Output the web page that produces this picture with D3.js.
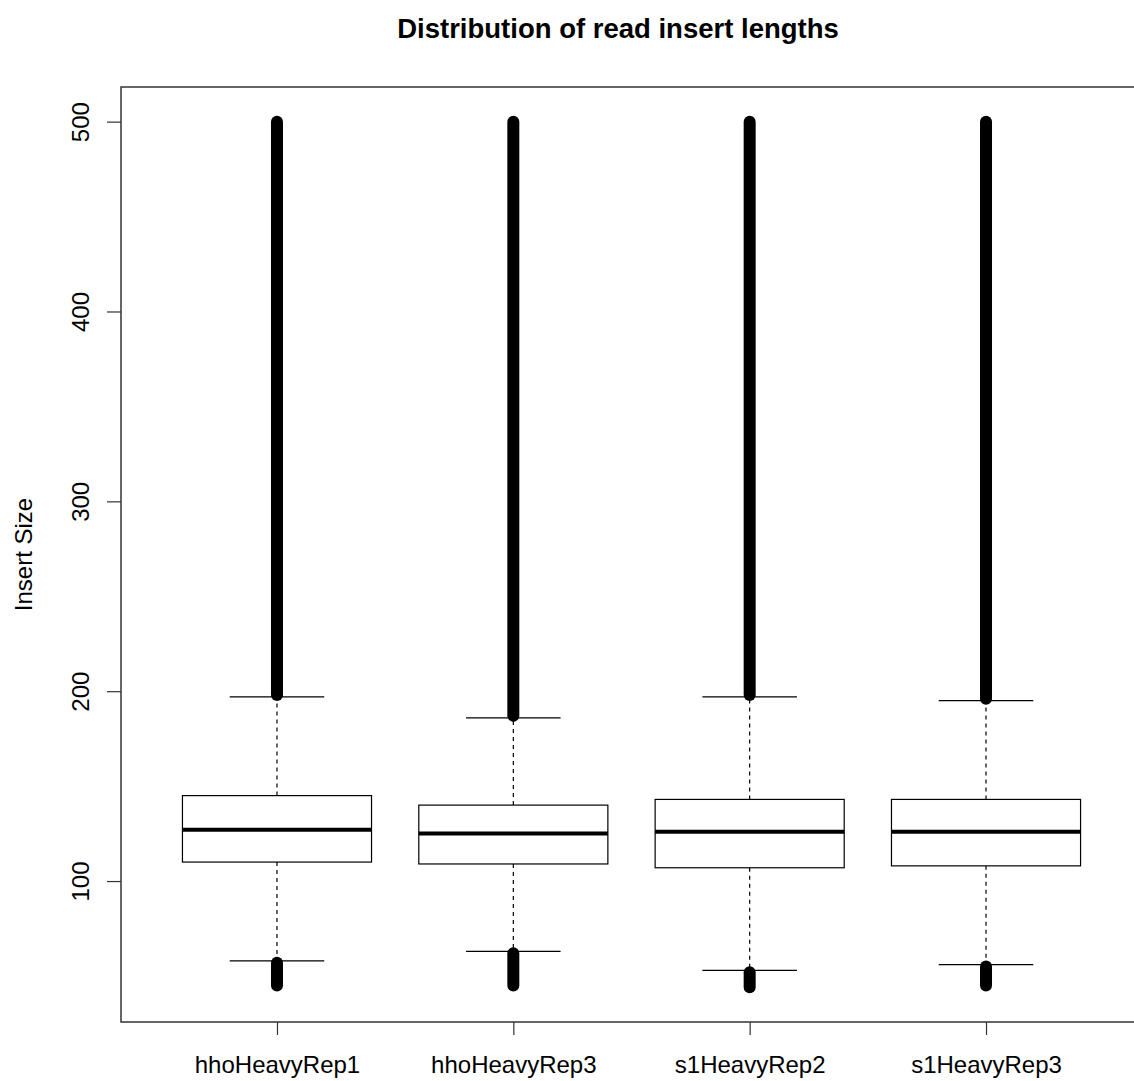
<!DOCTYPE html>
<html>
<head>
<meta charset="utf-8">
<script src="https://cdn.jsdelivr.net/npm/d3@7"></script>
<style>
  body { margin: 0; background: #fff; }
  svg text { font-family: "Liberation Sans", Arial, sans-serif; fill: #000; }
</style>
</head>
<body>
<div class="chart"></div>
<script>
// Box plot summary values
const categories = ["hhoHeavyRep1", "hhoHeavyRep3", "s1HeavyRep2", "s1HeavyRep3"];
const lowerWhisker = [58, 63, 53, 56];
const q1 = [110, 109, 107, 108];
const medians = [127, 125, 126, 126];
const q3 = [145, 140, 143, 143];
const upperWhisker = [197, 186, 197, 195];
// outliers are so dense they merge into a band: keep their extents
const lowOutMin = [45, 45, 44, 45];
const lowOutMax = [57, 62, 52, 55];
const highOutMin = [198, 187, 198, 196];
const highOutMax = [500, 500, 500, 500];
const yTicks = [100, 200, 300, 400, 500];

const width = 1134, height = 1081;
const plot = { left: 121, right: 1142, top: 87, bottom: 1022 };

const data = categories.map((c, i) => ({
    name: c, i: i + 1,
    lw: lowerWhisker[i], q1: q1[i], med: medians[i], q3: q3[i], uw: upperWhisker[i],
    loMin: lowOutMin[i], loMax: lowOutMax[i], hiMin: highOutMin[i], hiMax: highOutMax[i]
}));

// R style 4% extension of the ranges
const dMin = d3.min(lowOutMin), dMax = d3.max(highOutMax);
const pad = (dMax - dMin) * 0.04;
const n = categories.length;
const xPad = (n + 0.5 - 0.5) * 0.04;

let xScale = d3.scaleLinear()
    .domain([0.5 - xPad, n + 0.5 + xPad])
    .range([plot.left, plot.right]);

let yScale = d3.scaleLinear()
    .domain([dMin - pad, dMax + pad])
    .range([plot.bottom, plot.top]);

const svg = d3.select(".chart").append("svg")
    .attr("width", width)
    .attr("height", height);

// title
svg.append("text")
    .attr("x", 618).attr("y", 38)
    .attr("text-anchor", "middle")
    .style("font-size", "27.5px").style("font-weight", "bold")
    .text("Distribution of read insert lengths");

// y label
svg.append("text")
    .attr("transform", "translate(32," + ((plot.top + plot.bottom) / 2) + ") rotate(-90)")
    .attr("text-anchor", "middle")
    .style("font-size", "24px")
    .text("Insert Size");

const boxW = xScale(1.4) - xScale(1);   // half of boxwex 0.8
const capW = boxW / 2;

const g = svg.append("g");

const groups = g.selectAll("g.box")
    .data(data)
    .enter().append("g")
    .attr("class", "box");

// whiskers
groups.append("line")
    .attr("x1", d => xScale(d.i)).attr("x2", d => xScale(d.i))
    .attr("y1", d => yScale(d.q3)).attr("y2", d => yScale(d.uw))
    .attr("stroke", "#000").attr("stroke-width", 1.2).attr("stroke-dasharray", "4,4");
groups.append("line")
    .attr("x1", d => xScale(d.i)).attr("x2", d => xScale(d.i))
    .attr("y1", d => yScale(d.q1)).attr("y2", d => yScale(d.lw))
    .attr("stroke", "#000").attr("stroke-width", 1.2).attr("stroke-dasharray", "4,4");

// staples
["uw", "lw"].forEach(k => {
    groups.append("line")
        .attr("x1", d => xScale(d.i) - capW).attr("x2", d => xScale(d.i) + capW)
        .attr("y1", d => yScale(d[k])).attr("y2", d => yScale(d[k]))
        .attr("stroke", "#000").attr("stroke-width", 1.2);
});

// boxes
groups.append("rect")
    .attr("x", d => xScale(d.i) - boxW)
    .attr("width", 2 * boxW)
    .attr("y", d => yScale(d.q3))
    .attr("height", d => yScale(d.q1) - yScale(d.q3))
    .attr("fill", "#fff").attr("stroke", "#000").attr("stroke-width", 1.2);

// medians
groups.append("line")
    .attr("x1", d => xScale(d.i) - boxW).attr("x2", d => xScale(d.i) + boxW)
    .attr("y1", d => yScale(d.med)).attr("y2", d => yScale(d.med))
    .attr("stroke", "#000").attr("stroke-width", 4);

// outlier bands
[["hiMin", "hiMax"], ["loMin", "loMax"]].forEach(([a, b]) => {
    groups.append("line")
        .attr("x1", d => xScale(d.i)).attr("x2", d => xScale(d.i))
        .attr("y1", d => yScale(d[a])).attr("y2", d => yScale(d[b]))
        .attr("stroke", "#000").attr("stroke-width", 12).attr("stroke-linecap", "round");
});

// frame
svg.append("rect")
    .attr("x", plot.left).attr("y", plot.top)
    .attr("width", plot.right - plot.left).attr("height", plot.bottom - plot.top)
    .attr("fill", "none").attr("stroke", "#333").attr("stroke-width", 1.5);

// y axis
const yAxis = svg.append("g")
    .attr("transform", "translate(" + plot.left + ",0)")
    .call(d3.axisLeft(yScale).tickValues(yTicks).tickSize(14).tickFormat(d3.format("d")));
yAxis.select(".domain").remove();
yAxis.selectAll("line").attr("stroke", "#333").attr("stroke-width", 1.2);
yAxis.selectAll("text")
    .attr("transform", "rotate(-90)")
    .attr("x", 0).attr("y", -32).attr("dy", 0)
    .attr("text-anchor", "middle")
    .style("font-size", "24px").style("font-family", "Liberation Sans, Arial, sans-serif")
    .attr("fill", "#000");

// x axis
const xAxis = svg.append("g")
    .attr("transform", "translate(0," + plot.bottom + ")")
    .call(d3.axisBottom(xScale).tickValues(data.map(d => d.i)).tickSize(13)
        .tickFormat((d, i) => categories[i]));
xAxis.select(".domain").remove();
xAxis.selectAll("line").attr("stroke", "#333").attr("stroke-width", 1.2);
xAxis.selectAll("text")
    .attr("y", 51).attr("dy", 0)
    .style("font-size", "24px").style("font-family", "Liberation Sans, Arial, sans-serif")
    .attr("fill", "#000");
</script>
</body>
</html>
